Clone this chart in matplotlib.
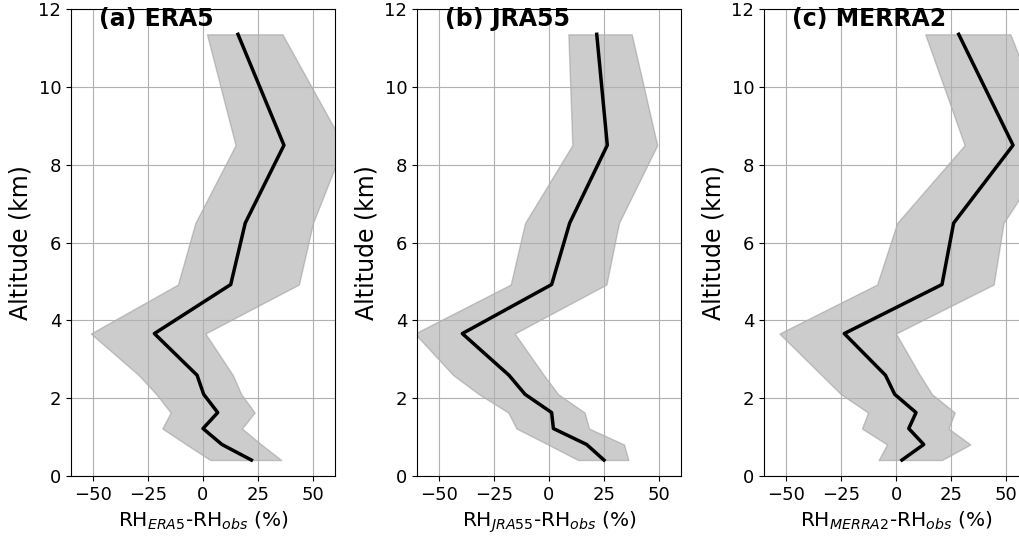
import numpy as np
import matplotlib.pyplot as plt

# altitude levels (km)
alt = [11.35, 8.5, 6.5, 4.92, 3.66, 2.59, 2.1, 1.63, 1.22, 0.81, 0.41]

era5_mean = [15.9, 36.8, 19.2, 12.6, -22.1, -2.7, 0.3, 6.7, 0.0, 8.6, 22.0]
era5_low = [1.8, 14.8, -3.5, -11.4, -51.0, -29.2, -21.2, -14.7, -18.5, -7.6, 3.3]
era5_high = [36.1, 64.0, 50.0, 43.6, 1.1, 13.6, 17.4, 23.5, 17.7, 26.5, 35.6]

jra55_mean = [21.7, 26.5, 9.4, 1.2, -39.4, -18.2, -10.9, 1.2, 2.0, 17.1, 25.0]
jra55_low = [8.8, 10.6, -10.9, -17.4, -61.0, -43.5, -31.8, -18.5, -14.8, -0.5, 13.2]
jra55_high = [37.6, 49.2, 31.8, 26.1, -15.6, -2.3, 4.2, 16.2, 18.2, 34.1, 36.1]

merra2_mean = [28.5, 53.2, 26.2, 20.9, -23.5, -4.8, -0.6, 9.1, 5.8, 12.6, 2.7]
merra2_low = [13.3, 31.2, 0.5, -8.6, -53.0, -33.8, -25.0, -12.7, -15.5, -4.1, -7.9]
merra2_high = [52.0, 72.0, 48.9, 44.4, 0.0, 10.9, 16.4, 26.7, 23.9, 33.8, 20.9]

panels = [
    ('(a) ERA5', 'ERA5', era5_mean, era5_low, era5_high),
    ('(b) JRA55', 'JRA55', jra55_mean, jra55_low, jra55_high),
    ('(c) MERRA2', 'MERRA2', merra2_mean, merra2_low, merra2_high),
]

fig = plt.figure(figsize=(10.19, 5.37), dpi=100)
lefts = [71, 417, 764]
for (title, name, m, lo, hi), l in zip(panels, lefts):
    ax = fig.add_axes([l / 1019, 61 / 537, 264 / 1019, 467 / 537])
    ax.fill_betweenx(alt, lo, hi, color='gray', alpha=0.4)
    ax.plot(m, alt, color='black', lw=2.5)
    ax.set_xlim(-60, 60)
    ax.set_ylim(0, 12)
    ax.set_xticks([-50, -25, 0, 25, 50])
    ax.set_yticks(range(0, 13, 2))
    ax.tick_params(labelsize=13)
    ax.grid(True)
    ax.set_ylabel('Altitude (km)', fontsize=17)
    ax.set_xlabel('RH$_{' + name + '}$-RH$_{obs}$ (%)', fontsize=14.5)
    ax.text(-47.2, 11.57, title, fontsize=17, fontweight='bold')

fig.savefig('out.png', dpi=100)
